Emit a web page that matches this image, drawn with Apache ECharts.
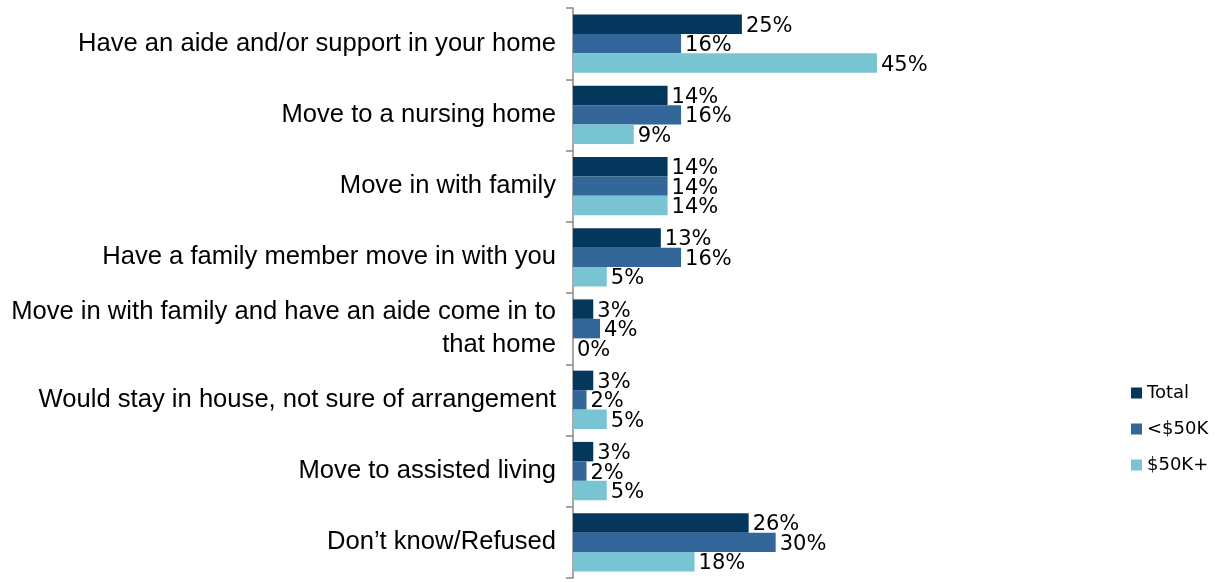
<!DOCTYPE html>
<html>
<head>
<meta charset="utf-8">
<script src="https://cdn.jsdelivr.net/npm/echarts@6/dist/echarts.min.js"></script>
<style>
  html, body { margin: 0; padding: 0; background: #fff; }
  #chart { width: 1217px; height: 582px; }
</style>
</head>
<body>
<div id="chart"></div>
<script>
const categories = [
    'Have an aide and/or support in your home',
    'Move to a nursing home',
    'Move in with family',
    'Have a family member move in with you',
    'Move in with family and have an aide come in to\nthat home',
    'Would stay in house, not sure of arrangement',
    'Move to assisted living',
    'Don\u2019t know/Refused'
]
const totalData = [25, 14, 14, 13, 3, 3, 3, 26]
const under50Data = [16, 16, 14, 16, 4, 2, 2, 30]
const over50Data = [45, 9, 14, 5, 0, 5, 5, 18]

const labelStyle = {
    show: true,
    position: 'right',
    distance: 4,
    offset: [0, 2],
    formatter: '{c}%',
    color: '#000',
    fontFamily: 'DejaVu Sans',
    fontSize: 21
}

function makeSeries(name, data, color) {
    return {
        name: name,
        type: 'bar',
        data: data,
        barGap: '0%',
        barCategoryGap: '18%',
        itemStyle: { color: color },
        label: labelStyle
    }
}

const myChart = echarts.init(document.getElementById('chart'))
myChart.setOption({
    animation: false,
    grid: {
        top: 8,
        bottom: 4,
        left: 573,
        right: 340
    },
    legend: {
        orient: 'vertical',
        left: 1126,
        top: 379,
        itemWidth: 11,
        itemHeight: 11,
        itemGap: 18,
        icon: 'rect',
        textStyle: { fontFamily: 'DejaVu Sans', fontSize: 18, color: '#000' }
    },
    xAxis: {
        type: 'value',
        min: 0,
        max: 45,
        show: false
    },
    yAxis: {
        type: 'category',
        inverse: true,
        data: categories,
        axisLine: { show: true, lineStyle: { color: '#888', width: 1.5 } },
        axisTick: { show: true, length: 7, lineStyle: { color: '#888', width: 1.5 } },
        axisLabel: {
            margin: 17,
            color: '#000',
            fontFamily: 'Liberation Sans',
            fontSize: 25.6,
            lineHeight: 33,
            align: 'right'
        }
    },
    series: [
        makeSeries('Total', totalData, '#04375b'),
        makeSeries('<$50K', under50Data, '#336699'),
        makeSeries('$50K+', over50Data, '#79c4d3')
    ]
})
</script>
</body>
</html>
